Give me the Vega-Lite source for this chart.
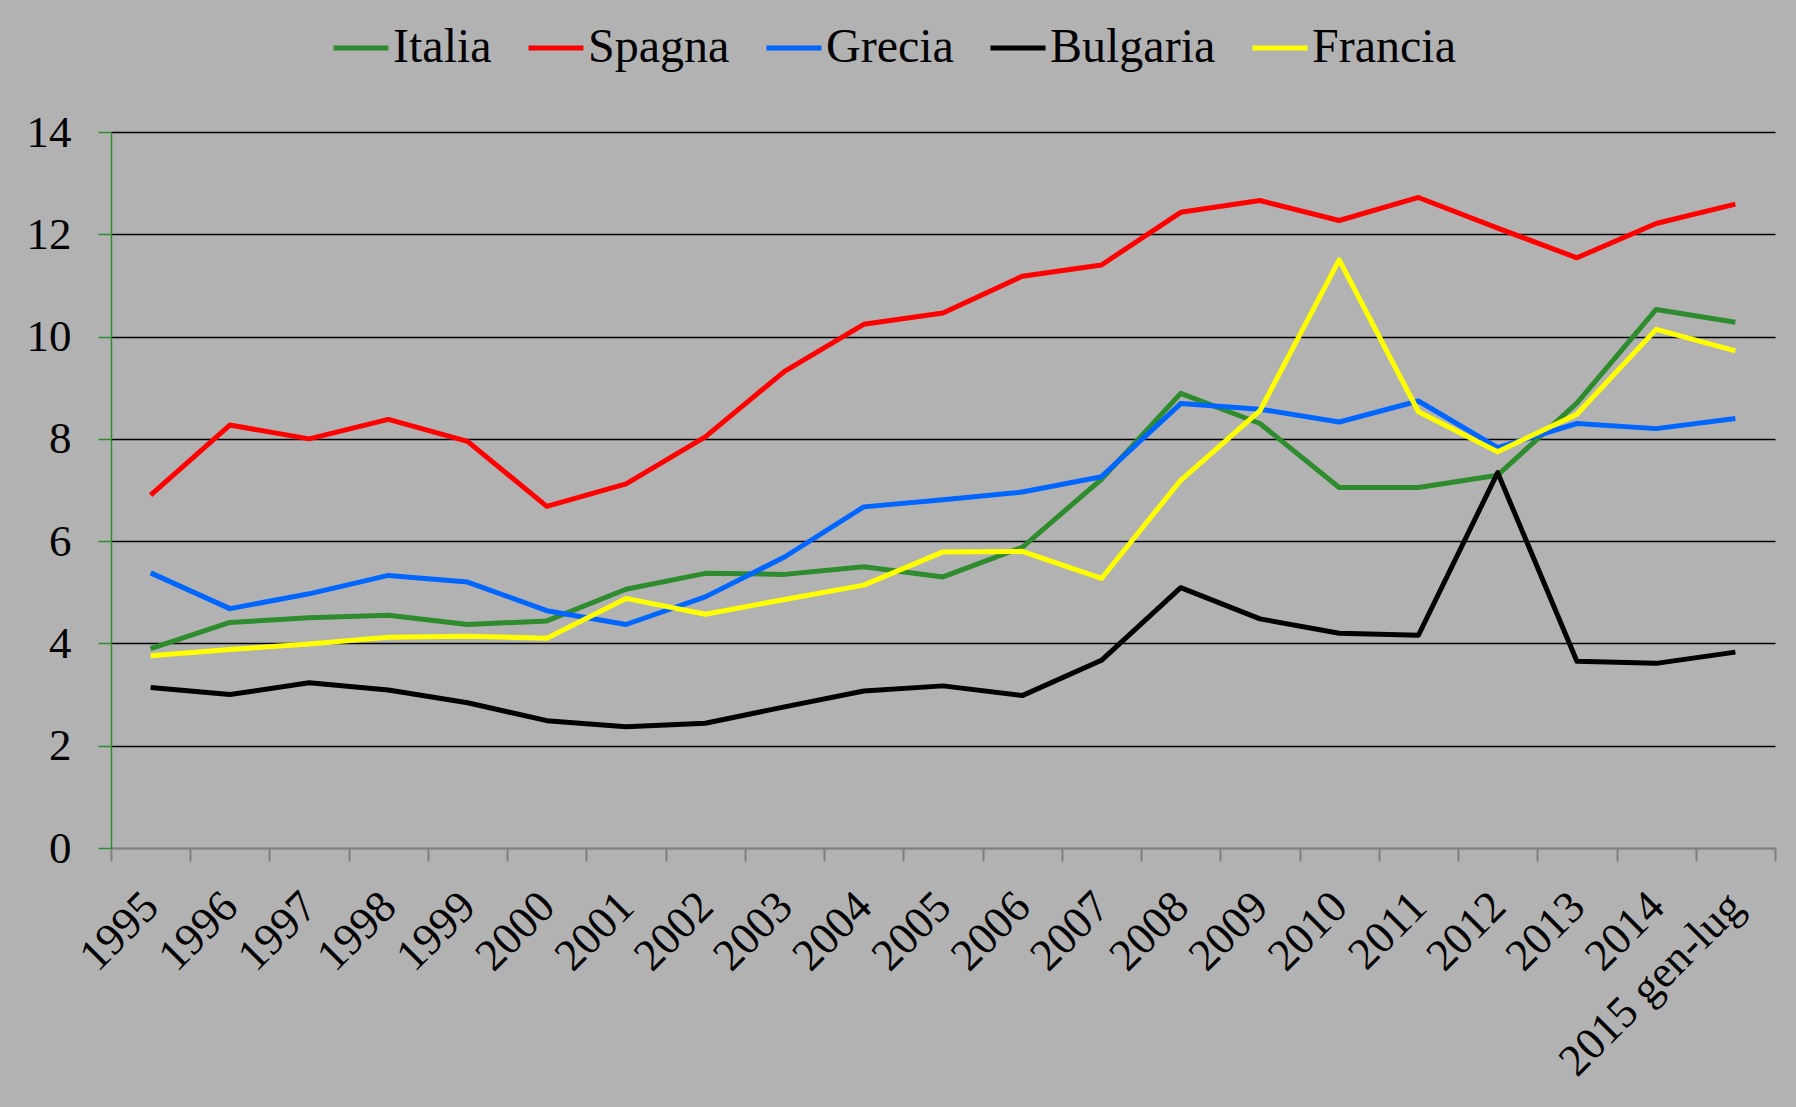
{
  "$schema": "https://vega.github.io/schema/vega-lite/v6.json",
  "autosize": {"type": "none"},
  "width": 1664,
  "height": 716,
  "padding": {"left": 111, "top": 132, "right": 21, "bottom": 259},
  "background": "#b2b2b2",
  "config": {
    "font": "Liberation Serif",
    "view": {"stroke": null}
  },
  "data": {
    "values": [
      {"anno": "1995", "Italia": 3.90, "Spagna": 6.90, "Grecia": 5.38, "Bulgaria": 3.14, "Francia": 3.76},
      {"anno": "1996", "Italia": 4.41, "Spagna": 8.27, "Grecia": 4.68, "Bulgaria": 3.00, "Francia": 3.88},
      {"anno": "1997", "Italia": 4.50, "Spagna": 8.00, "Grecia": 4.97, "Bulgaria": 3.23, "Francia": 3.99},
      {"anno": "1998", "Italia": 4.55, "Spagna": 8.38, "Grecia": 5.33, "Bulgaria": 3.09, "Francia": 4.12},
      {"anno": "1999", "Italia": 4.37, "Spagna": 7.95, "Grecia": 5.20, "Bulgaria": 2.84, "Francia": 4.14},
      {"anno": "2000", "Italia": 4.44, "Spagna": 6.68, "Grecia": 4.64, "Bulgaria": 2.49, "Francia": 4.10},
      {"anno": "2001", "Italia": 5.06, "Spagna": 7.12, "Grecia": 4.37, "Bulgaria": 2.37, "Francia": 4.88},
      {"anno": "2002", "Italia": 5.37, "Spagna": 8.04, "Grecia": 4.91, "Bulgaria": 2.44, "Francia": 4.57},
      {"anno": "2003", "Italia": 5.35, "Spagna": 9.32, "Grecia": 5.69, "Bulgaria": 2.76, "Francia": 4.86},
      {"anno": "2004", "Italia": 5.50, "Spagna": 10.24, "Grecia": 6.67, "Bulgaria": 3.07, "Francia": 5.14},
      {"anno": "2005", "Italia": 5.30, "Spagna": 10.46, "Grecia": 6.81, "Bulgaria": 3.17, "Francia": 5.79},
      {"anno": "2006", "Italia": 5.88, "Spagna": 11.18, "Grecia": 6.96, "Bulgaria": 2.98, "Francia": 5.80},
      {"anno": "2007", "Italia": 7.21, "Spagna": 11.40, "Grecia": 7.26, "Bulgaria": 3.67, "Francia": 5.27},
      {"anno": "2008", "Italia": 8.89, "Spagna": 12.43, "Grecia": 8.69, "Bulgaria": 5.09, "Francia": 7.19},
      {"anno": "2009", "Italia": 8.30, "Spagna": 12.66, "Grecia": 8.58, "Bulgaria": 4.48, "Francia": 8.55},
      {"anno": "2010", "Italia": 7.05, "Spagna": 12.27, "Grecia": 8.33, "Bulgaria": 4.20, "Francia": 11.50},
      {"anno": "2011", "Italia": 7.05, "Spagna": 12.72, "Grecia": 8.74, "Bulgaria": 4.16, "Francia": 8.53},
      {"anno": "2012", "Italia": 7.29, "Spagna": 12.12, "Grecia": 7.83, "Bulgaria": 7.34, "Francia": 7.75},
      {"anno": "2013", "Italia": 8.70, "Spagna": 11.54, "Grecia": 8.30, "Bulgaria": 3.65, "Francia": 8.48},
      {"anno": "2014", "Italia": 10.53, "Spagna": 12.21, "Grecia": 8.20, "Bulgaria": 3.61, "Francia": 10.14},
      {"anno": "2015 gen-lug", "Italia": 10.28, "Spagna": 12.59, "Grecia": 8.40, "Bulgaria": 3.83, "Francia": 9.72}
    ]
  },
  "transform": [
    {"fold": ["Italia", "Spagna", "Grecia", "Bulgaria", "Francia"], "as": ["paese", "valore"]}
  ],
  "mark": {"type": "line", "strokeWidth": 5, "strokeJoin": "round"},
  "encoding": {
    "x": {
      "field": "anno",
      "type": "ordinal",
      "sort": null,
      "scale": {"type": "band", "paddingInner": 0, "paddingOuter": 0},
      "axis": {
        "title": null,
        "domainColor": "#808080",
        "domainWidth": 2,
        "tickColor": "#808080",
        "tickWidth": 2,
        "tickSize": 13,
        "tickBand": "extent",
        "labelAngle": -45,
        "labelAlign": "right",
        "labelBaseline": "middle",
        "labelPadding": 38,
        "labelFont": "Liberation Serif",
        "labelFontSize": 45,
        "labelColor": "black",
        "labelLimit": 400,
        "labelOverlap": false,
        "labelBound": false
      }
    },
    "y": {
      "field": "valore",
      "type": "quantitative",
      "scale": {"domain": [0, 14], "nice": false, "zero": true},
      "axis": {
        "title": null,
        "values": [0, 2, 4, 6, 8, 10, 12, 14],
        "domainColor": "#2e8b2e",
        "domainWidth": 1.5,
        "tickColor": "#2e8b2e",
        "tickWidth": 1.5,
        "tickSize": 13,
        "grid": true,
        "gridColor": {"condition": {"test": "datum.value === 0", "value": "#808080"}, "value": "black"},
        "gridWidth": 1.5,
        "gridOpacity": 1,
        "labelPadding": 27,
        "labelFont": "Liberation Serif",
        "labelFontSize": 45,
        "labelColor": "black"
      }
    },
    "color": {
      "field": "paese",
      "type": "nominal",
      "sort": ["Italia", "Spagna", "Grecia", "Bulgaria", "Francia"],
      "scale": {
        "domain": ["Italia", "Spagna", "Grecia", "Bulgaria", "Francia"],
        "range": ["#2e8b2e", "#ff0000", "#0066ff", "#000000", "#ffff00"]
      },
      "legend": {
        "title": null,
        "orient": "none",
        "legendX": 220,
        "legendY": -114,
        "direction": "horizontal",
        "columns": 5,
        "symbolType": "stroke",
        "symbolSize": 3025,
        "symbolStrokeWidth": 5,
        "labelFont": "Liberation Serif",
        "labelFontSize": 48,
        "labelColor": "black",
        "labelLimit": 400,
        "labelOffset": 2,
        "columnPadding": 26,
        "padding": 0
      }
    }
  }
}
